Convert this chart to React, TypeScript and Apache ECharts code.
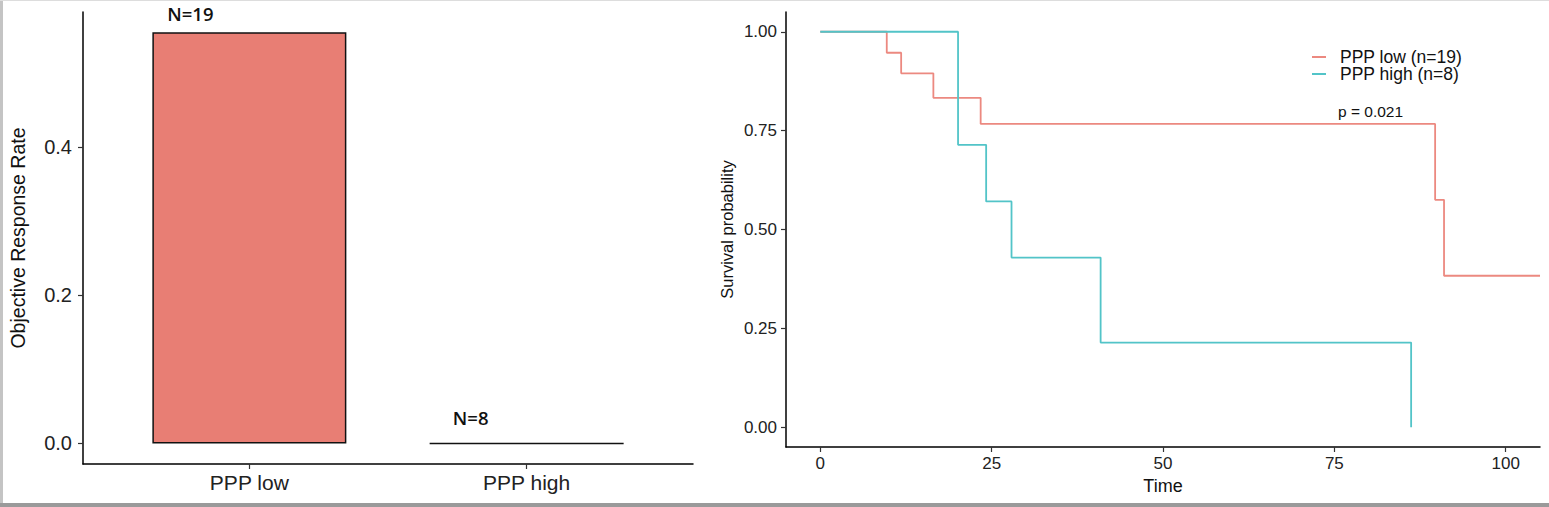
import React, { useEffect, useRef } from "react";
import * as echarts from "echarts";

const categories = ["PPP low", "PPP high"];
const responseRates = [0.5556, 0];
const groupN = ["N=19", "N=8"];

const lowTimes = [0, 9.7, 11.8, 16.5, 23.4, 89.7, 91.0, 105];
const lowSurv = [1, 0.947, 0.895, 0.833, 0.767, 0.575, 0.383, 0.383];
const highTimes = [0, 20.1, 24.2, 27.9, 40.9, 86.2];
const highSurv = [1, 0.714, 0.571, 0.429, 0.214, 0];

const survTicks = [0, 0.25, 0.5, 0.75, 1];
const timeTicks = [0, 25, 50, 75, 100];
const rateTicks = [0, 0.2, 0.4];
const legendNames = ["PPP low (n=19)", "PPP high (n=8)"];
const pValueText = "p = 0.021";

const FONT = "Liberation Sans, Arial, sans-serif";
const RED_BAR = "#E87E74";
const RED_LINE = "#EC8980";
const TEAL = "#52C4C8";

export default function App() {
  const ref = useRef<HTMLDivElement>(null);
  useEffect(() => {
    if (!ref.current) return;
    const chart = echarts.init(ref.current, null, { renderer: "svg" });
    const axisLine = { show: true, onZero: false, lineStyle: { color: "#000", width: 1.5 } };
    const axisTick = (vals: number[]) => ({
      show: true,
      length: 5,
      lineStyle: { color: "#333", width: 1.2 },
      customValues: vals,
    });
    const barData = categories.map((c, i) => ({
      value: [i + 1, responseRates[i]],
      label: {
        show: true,
        position: "top",
        formatter: groupN[i],
        offset: i === 0 ? [-59, -4] : [-56, -10],
        fontFamily: "Open Sans, sans-serif",
        fontWeight: 600,
        fontSize: 18.5,
        lineHeight: 20,
        color: "#111",
      },
    }));
    chart.setOption({
      animation: false,
      backgroundColor: "#fff",
      grid: [
        { left: 83, top: 12, width: 610, height: 452 },
        { left: 786, top: 12, width: 754, height: 435 },
      ],
      xAxis: [
        {
          type: "value",
          gridIndex: 0,
          min: 0.4,
          max: 2.6,
          splitLine: { show: false },
          axisLine,
          axisTick: axisTick([1, 2]),
          axisLabel: {
            customValues: [1, 2],
            formatter: (v: number) => categories[Math.round(v) - 1] ?? "",
            fontFamily: FONT,
            fontSize: 21,
            color: "#222",
            margin: 8,
          },
        },
        {
          type: "value",
          gridIndex: 1,
          min: -5,
          max: 105,
          name: "Time",
          nameLocation: "middle",
          nameGap: 30,
          nameTextStyle: { fontFamily: FONT, fontSize: 18, color: "#111" },
          splitLine: { show: false },
          axisLine,
          axisTick: axisTick(timeTicks),
          axisLabel: {
            customValues: timeTicks,
            fontFamily: FONT,
            fontSize: 17,
            color: "#222",
            margin: 8,
          },
        },
      ],
      yAxis: [
        {
          type: "value",
          gridIndex: 0,
          min: -0.0278,
          max: 0.583,
          name: "Objective Response Rate",
          nameLocation: "middle",
          nameGap: 55,
          nameTextStyle: { fontFamily: FONT, fontSize: 19.5, color: "#111" },
          splitLine: { show: false },
          axisLine,
          axisTick: axisTick(rateTicks),
          axisLabel: {
            customValues: rateTicks,
            formatter: (v: number) => v.toFixed(1),
            fontFamily: FONT,
            fontSize: 20,
            color: "#222",
            margin: 11,
          },
        },
        {
          type: "value",
          gridIndex: 1,
          min: -0.05,
          max: 1.05,
          name: "Survival probability",
          nameLocation: "middle",
          nameGap: 51,
          nameTextStyle: { fontFamily: FONT, fontSize: 16.5, color: "#111" },
          splitLine: { show: false },
          axisLine,
          axisTick: axisTick(survTicks),
          axisLabel: {
            customValues: survTicks,
            formatter: (v: number) => v.toFixed(2),
            fontFamily: FONT,
            fontSize: 17,
            color: "#222",
            margin: 9,
          },
        },
      ],
      legend: {
        orient: "vertical",
        left: 1307,
        top: 43,
        itemWidth: 14,
        itemHeight: 2,
        itemGap: -1,
        icon: "rect",
        textStyle: { fontFamily: FONT, fontSize: 17.5, color: "#111", padding: [0, 0, 0, 9] },
        data: legendNames,
      },
      series: [
        {
          type: "bar",
          xAxisIndex: 0,
          yAxisIndex: 0,
          barWidth: 194,
          data: barData,
          itemStyle: { color: RED_BAR, borderColor: "#111", borderWidth: 1.5 },
        },
        {
          type: "line",
          name: legendNames[0],
          xAxisIndex: 1,
          yAxisIndex: 1,
          step: "end",
          showSymbol: false,
          symbol: "none",
          color: RED_LINE,
          lineStyle: { color: RED_LINE, width: 1.8 },
          data: lowTimes.map((t, i) => [t, lowSurv[i]]),
        },
        {
          type: "line",
          name: legendNames[1],
          xAxisIndex: 1,
          yAxisIndex: 1,
          step: "end",
          showSymbol: false,
          symbol: "none",
          color: TEAL,
          lineStyle: { color: TEAL, width: 1.8 },
          data: highTimes.map((t, i) => [t, highSurv[i]]),
        },
      ],
      graphic: [
        {
          type: "text",
          left: 1338,
          top: 103,
          style: { text: pValueText, font: `15.5px ${FONT}`, fill: "#111" },
        },
        {
          type: "rect",
          left: 0,
          top: 503,
          shape: { width: 1549, height: 4 },
          style: { fill: "#9a9a9a" },
        },
        {
          type: "rect",
          left: 0,
          top: 0,
          shape: { width: 3, height: 503 },
          style: { fill: "#c4c4c4" },
        },
        {
          type: "rect",
          left: 0,
          top: 0,
          shape: { width: 1549, height: 1 },
          style: { fill: "#dddddd" },
        },
      ],
    });
    return () => chart.dispose();
  }, []);
  return (
    <div
      ref={ref}
      style={{ position: "absolute", left: 0, top: 0, width: 1549, height: 507 }}
    />
  );
}
